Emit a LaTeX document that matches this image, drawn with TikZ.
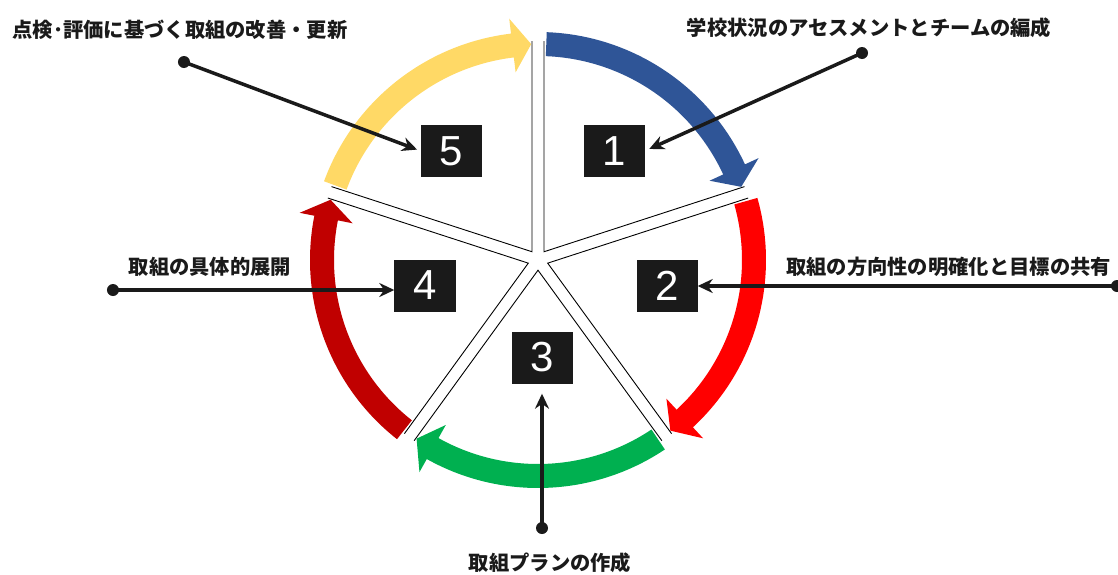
\documentclass[tikz,border=0pt]{standalone}
\usepackage{fontspec}
\setmainfont{Liberation Sans}
\newfontfamily\jpfont{Noto Sans CJK JP}
\usetikzlibrary{arrows.meta, calc}

\definecolor{boxblack}{HTML}{1A1A1A}
\definecolor{ringblue}{HTML}{2F5597}
\definecolor{ringred}{HTML}{FF0000}
\definecolor{ringgreen}{HTML}{00B050}
\definecolor{ringdark}{HTML}{C00000}
\definecolor{ringyellow}{HTML}{FFD966}

\tikzstyle{numbox} = [rectangle, minimum width=61pt, minimum height=52pt,
inner sep=0pt, fill=boxblack, text=white, font=\fontsize{42pt}{42pt}\selectfont]
\tikzstyle{phase} = [inner sep=0pt, text=boxblack,
font=\jpfont\bfseries\fontsize{20.3pt}{24pt}\selectfont]
\tikzstyle{dot} = [circle, fill=boxblack, minimum size=12pt, inner sep=0pt]
\tikzstyle{spoke} = [draw=black, line width=0.9pt]
\tikzstyle{pointer} =
[line width=3.5pt, draw=boxblack, -{Stealth[length=15pt, width=14pt]}]

% block arc arrow: tail angle, tip angle, colour
\newcommand{\ringarrow}[3]{%
  \pgfmathsetmacro{\headangle}{#2+5}
  \fill[#3] (#1:228) arc[start angle=#1, end angle=\headangle, radius=228]
    -- (\headangle:243) -- (#2:216) -- (\headangle:189) -- (\headangle:204)
    arc[start angle=\headangle, end angle=#1, radius=204] -- cycle;}

\begin{document}
\begin{tikzpicture}[x=1pt, y=1pt]

\useasboundingbox (-538,-314) rectangle (580,260);

% five wedges round the centre
\draw[spoke] ($(90:219)+(0:6)$) -- (54:10.2) -- ($(18:219)+(108:6)$);
\draw[spoke] ($(18:219)+(-72:6)$) -- (-18:10.2) -- ($(-54:219)+(36:6)$);
\draw[spoke] ($(-54:219)+(-144:6)$) -- (-90:10.2) -- ($(-126:219)+(-36:6)$);
\draw[spoke] ($(-126:219)+(-216:6)$) -- (-162:10.2) -- ($(162:219)+(252:6)$);
\draw[spoke] ($(162:219)+(72:6)$) -- (126:10.2) -- ($(90:219)+(180:6)$);

% ring of arrows
\ringarrow{87.8}{19.8}{ringblue}
\ringarrow{15.8}{-52.2}{ringred}
\ringarrow{-56.2}{-124.2}{ringgreen}
\ringarrow{-128.2}{-196.2}{ringdark}
\ringarrow{159.8}{91.8}{ringyellow}

\node(l1)[phase] at (331,232){学校状況のアセスメントとチームの編成};
\node(l2)[phase] at (410.5,-7){取組の方向性の明確化と目標の共有};
\node(l3)[phase] at (12,-303){取組プランの作成};
\node(l4)[phase] at (-328,-7){取組の具体的展開};
\node(l5)[phase] at (-358,230){点検･評価に基づく取組の改善・更新};

\node(d1)[dot] at (324,207){};
\node(d2)[dot] at (579,-26){};
\node(d3)[dot] at (4,-268){};
\node(d4)[dot] at (-425,-30){};
\node(d5)[dot] at (-354,198){};

\node(b1)[numbox] at (76,109){1};
\node(b2)[numbox] at (129,-25.5){2};
\node(b3)[numbox] at (4.5,-97.5){3};
\node(b4)[numbox] at (-113,-25.5){4};
\node(b5)[numbox] at (-86.5,109){5};

\draw[pointer, shorten >=5pt](d1.center) -- (b1.east);
\draw[pointer](d2.center) -- (d2 -| b2.east);
\draw[pointer, shorten >=10pt](d3.center) -- (d3 |- b3.south);
\draw[pointer](d4.center) -- (d4 -| b4.west);
\draw[pointer, shorten >=4pt](d5.center) -- (b5.west);

\end{tikzpicture}
\end{document}
